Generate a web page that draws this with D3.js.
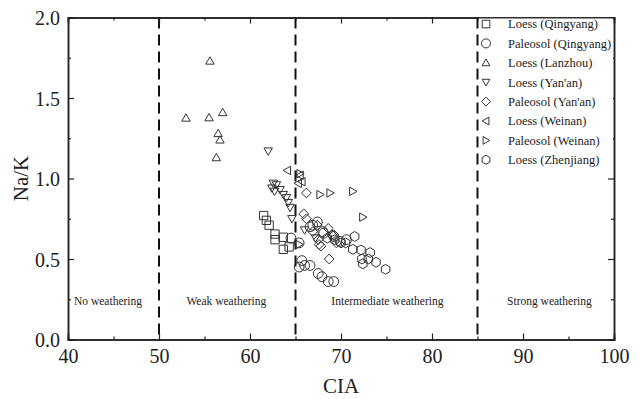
<!DOCTYPE html>
<html lang="en">
<head>
<meta charset="UTF-8">
<title>Na/K vs CIA</title>
<script src="https://cdnjs.cloudflare.com/ajax/libs/d3/7.8.5/d3.min.js"></script>
<style>
  body { margin: 0; background: #fff; }
  text { font-family: "Liberation Serif", "DejaVu Serif", serif; fill: #222; }
</style>
</head>
<body>
<svg width="641" height="399"></svg>
<script>
// ---- data ----
const seriesNames = ["Loess (Qingyang)", "Paleosol (Qingyang)", "Loess (Lanzhou)", "Loess (Yan'an)",
                     "Paleosol (Yan'an)", "Loess (Weinan)", "Paleosol (Weinan)", "Loess (Zhenjiang)"];
const seriesShapes = ["square", "circle", "up", "down", "diamond", "left", "right", "hexagon"];

const qingyangLoessX = [61.5, 61.8, 62.1, 62.75, 62.75, 63.66, 63.66, 64.3];
const qingyangLoessY = [0.77, 0.74, 0.71, 0.655, 0.62, 0.635, 0.56, 0.575];

const qingyangPaleoX = [64.5, 65.4, 65.7, 66.0, 65.4, 66.6, 67.5, 67.9, 68.6, 69.2, 66.9, 68.1, 67.4, 66.6, 68.0, 69.2, 69.9, 70.6];
const qingyangPaleoY = [0.63, 0.60, 0.49, 0.46, 0.45, 0.46, 0.41, 0.39, 0.36, 0.36, 0.71, 0.66, 0.73, 0.70, 0.67, 0.64, 0.61, 0.62];

const lanzhouLoessX = [55.6, 52.97, 55.5, 57.0, 56.5, 56.7, 56.3];
const lanzhouLoessY = [1.73, 1.376, 1.378, 1.41, 1.28, 1.24, 1.13];

const yananLoessX = [62.0, 62.56, 62.9, 62.4, 62.7, 63.3, 63.66, 64.0, 64.2, 64.4, 64.6, 66.0, 67.2];
const yananLoessY = [1.17, 0.97, 0.96, 0.94, 0.92, 0.93, 0.90, 0.88, 0.85, 0.82, 0.75, 0.68, 0.63];

const yananPaleoX = [66.2, 65.9, 66.2, 66.9, 67.5, 67.8, 68.6, 69.0, 68.7, 67.6, 67.4, 69.2, 69.5];
const yananPaleoY = [0.91, 0.78, 0.75, 0.67, 0.62, 0.58, 0.69, 0.65, 0.50, 0.59, 0.71, 0.65, 0.60];

const weinanLoessX = [64.1, 65.5, 65.7, 65.3];
const weinanLoessY = [1.05, 1.02, 0.98, 0.97];

const weinanPaleoX = [65.5, 67.7, 68.8, 71.3, 72.4, 65.4];
const weinanPaleoY = [1.03, 0.90, 0.91, 0.92, 0.76, 0.59];

const zhenjiangLoessX = [71.5, 71.3, 72.2, 73.2, 72.3, 73.0, 73.85, 72.4, 74.9, 69.3, 70.0, 70.5, 68.5];
const zhenjiangLoessY = [0.64, 0.56, 0.556, 0.54, 0.50, 0.50, 0.48, 0.47, 0.436, 0.62, 0.60, 0.60, 0.63];

const xs = [qingyangLoessX, qingyangPaleoX, lanzhouLoessX, yananLoessX, yananPaleoX, weinanLoessX, weinanPaleoX, zhenjiangLoessX];
const ys = [qingyangLoessY, qingyangPaleoY, lanzhouLoessY, yananLoessY, yananPaleoY, weinanLoessY, weinanPaleoY, zhenjiangLoessY];

const boundaries = [50, 65, 85];
const zoneLabels = ["No weathering", "Weak weathering", "Intermediate weathering", "Strong weathering"];
const zoneCenters = [44.4, 57.4, 75.1, 92.9];

const xTicks = [40, 50, 60, 70, 80, 90, 100];
const yTicks = [0.0, 0.5, 1.0, 1.5, 2.0];

// ---- layout ----
const svg = d3.select('svg');
const mLeft = 68, mRight = 614, mTop = 17.5, mBottom = 339.5;
const x = d3.scaleLinear().domain([40, 100]).range([mLeft, mRight]);
const y = d3.scaleLinear().domain([0, 2]).range([mBottom, mTop]);
const STROKE = '#333';

// marker path centred on 0,0
const marker = (shape, r) => {
    const pts = (n, rot) => d3.range(n).map(i => {
        const a = rot + i * 2 * Math.PI / n;
        return [r * Math.cos(a), r * Math.sin(a)];
    });
    const poly = p => 'M' + p.map(d => d.join(',')).join('L') + 'Z';
    switch (shape) {
        case 'square': { const s = r * 0.85; return `M${-s},${-s}H${s}V${s}H${-s}Z`; }
        case 'circle': return `M${r},0A${r},${r} 0 1,1 ${-r},0A${r},${r} 0 1,1 ${r},0Z`;
        case 'up': return poly(pts(3, -Math.PI / 2).map(([a, b]) => [a, b + r * 0.15]));
        case 'down': return poly(pts(3, Math.PI / 2).map(([a, b]) => [a, b - r * 0.15]));
        case 'left': return poly(pts(3, Math.PI).map(([a, b]) => [a + r * 0.15, b]));
        case 'right': return poly(pts(3, 0).map(([a, b]) => [a - r * 0.15, b]));
        case 'diamond': return poly(pts(4, -Math.PI / 2));
        case 'hexagon': return poly(pts(6, -Math.PI / 2));
    }
};

// dashed boundaries
svg.selectAll('.bound').data(boundaries).enter().append('line')
    .attr('x1', d => x(d)).attr('x2', d => x(d))
    .attr('y1', y(2)).attr('y2', y(0))
    .attr('stroke', '#111').attr('stroke-width', 2)
    .attr('stroke-dasharray', '11,6');

// zone labels
svg.selectAll('.zone').data(zoneLabels).enter().append('text')
    .attr('x', (d, i) => x(zoneCenters[i])).attr('y', 305)
    .attr('text-anchor', 'middle').attr('font-size', '11.5px')
    .text(d => d);

// points
xs.forEach((xv, si) => {
    svg.append('g').selectAll('path').data(xv).enter().append('path')
        .attr('d', marker(seriesShapes[si], 4.9))
        .attr('transform', (d, i) => `translate(${x(d)},${y(ys[si][i])})`)
        .attr('fill', 'none').attr('stroke', STROKE).attr('stroke-width', 1);
});

// axes (ticks inside on all four sides)
const xMinor = d3.range(45, 100, 10);
const yMinor = d3.range(0.25, 2, 0.5);
const addAxis = (axis, tr) => svg.append('g').attr('transform', tr).call(axis);

addAxis(d3.axisBottom(x).tickValues(xTicks).tickSize(-6).tickPadding(9).tickFormat(d3.format('d')), `translate(0,${mBottom})`);
addAxis(d3.axisBottom(x).tickValues(xMinor).tickSize(-3).tickFormat(''), `translate(0,${mBottom})`);
addAxis(d3.axisTop(x).tickValues(xTicks).tickSize(-6).tickFormat(''), `translate(0,${mTop})`);
addAxis(d3.axisTop(x).tickValues(xMinor).tickSize(-3).tickFormat(''), `translate(0,${mTop})`);
const ly = addAxis(d3.axisLeft(y).tickValues(yTicks).tickSize(-6).tickPadding(8).tickFormat(d3.format('.1f')), `translate(${mLeft},0)`);
addAxis(d3.axisLeft(y).tickValues(yMinor).tickSize(-3).tickFormat(''), `translate(${mLeft},0)`);
addAxis(d3.axisRight(y).tickValues(yTicks).tickSize(-6).tickFormat(''), `translate(${mRight},0)`);
addAxis(d3.axisRight(y).tickValues(yMinor).tickSize(-3).tickFormat(''), `translate(${mRight},0)`);

svg.selectAll('.domain').attr('stroke', '#222').attr('stroke-width', 1.5);
svg.selectAll('.tick line').attr('stroke', '#222').attr('stroke-width', 1.2);
svg.selectAll('.tick text').attr('font-family', '"Liberation Serif", serif')
    .attr('font-size', '20px').attr('fill', '#222');
ly.selectAll('.tick text').attr('dy', '0.35em');

// axis titles
svg.append('text').attr('x', x(70)).attr('y', 393).attr('text-anchor', 'middle')
    .attr('font-size', '21px').text('CIA');
svg.append('text').attr('transform', `translate(28,${y(1)}) rotate(-90)`)
    .attr('text-anchor', 'middle').attr('font-size', '21px').text('Na/K');

// legend
const legend = svg.append('g');
legend.append('rect').attr('x', 479).attr('y', mTop + 1).attr('width', 134).attr('height', 152).attr('fill', '#fff');
seriesNames.forEach((name, i) => {
    const ry = 24 + i * 19.4;
    legend.append('path').attr('d', marker(seriesShapes[i], 4.5))
        .attr('transform', `translate(486,${ry})`)
        .attr('fill', 'none').attr('stroke', STROKE).attr('stroke-width', 1);
    legend.append('text').attr('x', 508).attr('y', ry).attr('dy', '0.35em')
        .attr('font-size', '12.5px').text(name);
});
</script>
</body>
</html>
